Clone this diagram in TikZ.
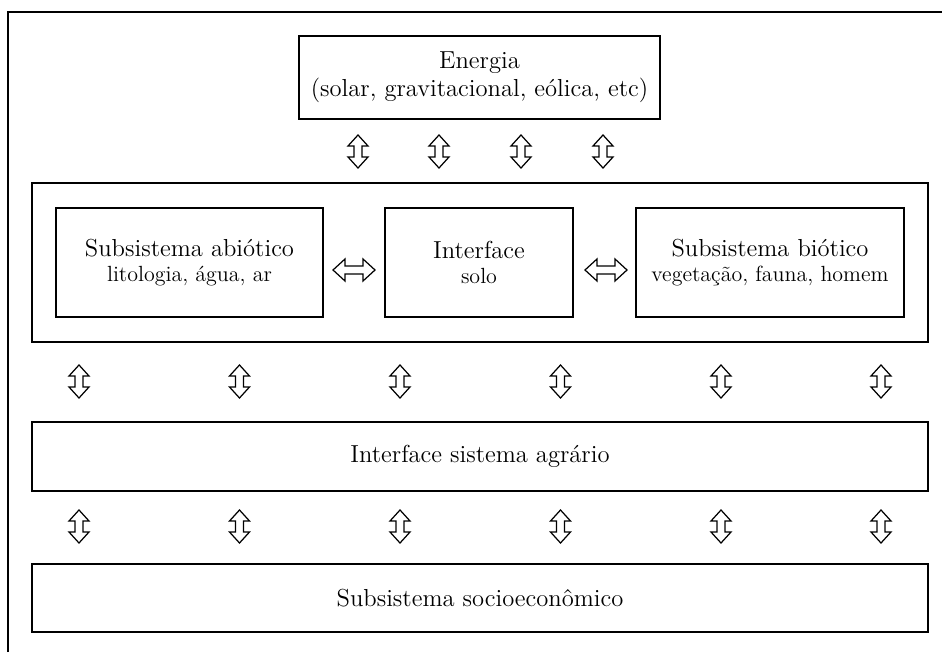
\documentclass[tikz,border=0pt]{standalone}
\usepackage{tikz}
\usetikzlibrary{positioning}
\tikzset{
  caixa/.style={draw, line width=0.8pt, rectangle, align=center, inner sep=0pt,
    font=\fontsize{14}{16}\selectfont},
  setav/.pic={
    \draw[line width=0.7pt, line join=miter]
      (0,-16.5) -- (10,-5.5) -- (4,-5.5) -- (4,5.5) -- (10,5.5) -- (0,16.5)
      -- (-10,5.5) -- (-4,5.5) -- (-4,-5.5) -- (-10,-5.5) -- cycle;
  },
  setah/.pic={
    \draw[line width=0.7pt, line join=miter]
      (-21,0) -- (-9,-11) -- (-9,-4) -- (9,-4) -- (9,-11) -- (21,0)
      -- (9,11) -- (9,4) -- (-9,4) -- (-9,11) -- cycle;
  }
}
\newcommand{\subtexto}[1]{{\fontsize{12.5}{14}\selectfont #1}}

\begin{document}
\begin{tikzpicture}[x=0.02cm, y=-0.02cm]
  \useasboundingbox (0,0) rectangle (942,652);
  \draw[line width=1.1pt] (8,652) -- (8,12) -- (942,12);

  \node[caixa, minimum width=7.22cm, minimum height=1.66cm] (energia) at (479.5,77.5)
    {Energia\\(solar, gravitacional, eólica, etc)};

  \node[caixa, minimum width=17.92cm, minimum height=3.18cm] (sistema) at (480,262.5) {};
  \node[caixa, minimum width=5.34cm, minimum height=2.18cm] (abiotico) at (189.5,262.5)
    {Subsistema abiótico\\[-2pt]\subtexto{litologia, água, ar}};
  \node[caixa, minimum width=3.76cm, minimum height=2.18cm] (interface) at (479,262.5)
    {Interface\\[-2pt]\subtexto{solo}};
  \node[caixa, minimum width=5.36cm, minimum height=2.18cm] (biotico) at (770,262.5)
    {Subsistema biótico\\[-2pt]\subtexto{vegetação, fauna, homem}};

  \node[caixa, minimum width=17.92cm, minimum height=1.38cm] (agrario) at (480,456.5)
    {Interface sistema agrário};
  \node[caixa, minimum width=17.92cm, minimum height=1.36cm] (socio) at (480,598)
    {Subsistema socioeconômico};

  \foreach \x in {358,439,521,603}
    \pic at (\x,151.5) {setav};
  \foreach \x in {79,239.5,400,560.5,721,881} {
    \pic at (\x,381.5) {setav};
    \pic at (\x,526.5) {setav};
  }
  \pic at (354,270) {setah};
  \pic at (606,270) {setah};
\end{tikzpicture}
\end{document}
